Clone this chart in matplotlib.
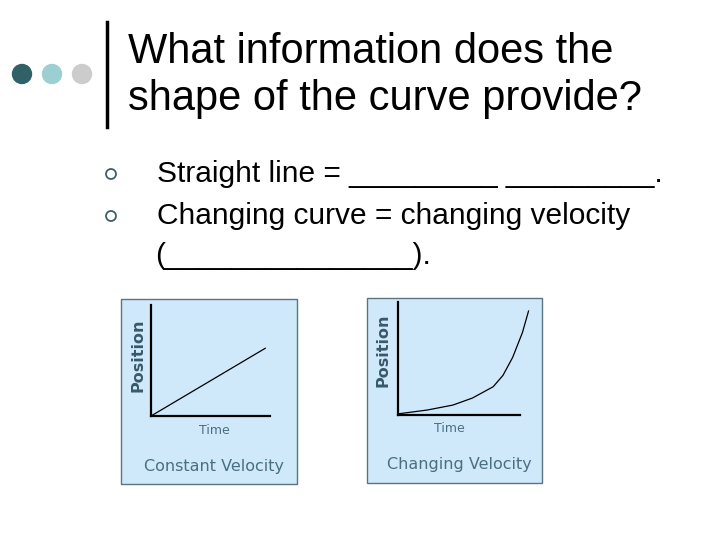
import matplotlib
matplotlib.use("Agg")
import matplotlib.pyplot as plt
from matplotlib.patches import Rectangle, Ellipse

# slide text
title_lines = ["What information does the", "shape of the curve provide?"]
bullets = ["Straight line = _________ _________.",
           "Changing curve = changing velocity",
           "(_______________)."]

# left panel: constant velocity
const_time = [0, 9.6]
const_pos = [0, 6.1]

# right panel: changing velocity
chg_time = [0, 2.4, 4.5, 6.1, 7.8, 8.6, 9.4, 10.2, 10.7]
chg_pos = [0.1, 0.44, 0.88, 1.5, 2.5, 3.5, 5.1, 7.3, 9.2]

panel_titles = ["Constant Velocity", "Changing Velocity"]
W, H = 720, 540

fig = plt.figure(figsize=(7.2, 5.4), dpi=100)
fig.patch.set_facecolor("white")


def fx(px):
    return px / W


def fy(py):
    return 1 - py / H


sans = ["Liberation Sans", "DejaVu Sans"]

# title decoration
for x, c in [(22, "#2f6166"), (52, "#9ccfd2"), (82, "#cccccc")]:
    fig.add_artist(Ellipse((fx(x), fy(74)), 19 / W, 19 / H, color=c, transform=fig.transFigure))
fig.add_artist(plt.Line2D([fx(107), fx(107)], [fy(22), fy(127)], color="black", lw=2.5))

fig.text(fx(128), fy(52), title_lines[0], fontsize=30, family=sans, va="center", ha="left")
fig.text(fx(128), fy(99), title_lines[1], fontsize=30, family=sans, va="center", ha="left")

# bullets
for py in [174, 216]:
    fig.add_artist(Ellipse((fx(111), fy(py)), 10 / W, 10 / H, facecolor="none",
                           edgecolor="#3d6066", lw=1.3, transform=fig.transFigure))
fig.text(fx(157), fy(174), bullets[0], fontsize=21.5, family=sans, va="center")
fig.text(fx(157), fy(216), bullets[1], fontsize=21.5, family=sans, va="center")
fig.text(fx(155), fy(256), bullets[2], fontsize=21.5, family=sans, va="center")

# panel boxes
boxes = [(121, 299, 297, 484), (367, 298, 542, 483)]
for (x0, y0, x1, y1) in boxes:
    fig.add_artist(Rectangle((fx(x0), fy(y1)), fx(x1 - x0), (y1 - y0) / H,
                             facecolor="#cfe9fb", edgecolor="#5b7482", lw=1,
                             transform=fig.transFigure, zorder=0))

txt_col = "#4a6f80"
lab_col = "#37596a"


def panel(ax, t, p, xmax, xspan):
    ax.set_facecolor("none")
    ax.plot(t, p, color="black", lw=0.9)
    ax.set_xlim(0, xmax)
    ax.set_ylim(0, 10)
    for s in ["top", "right"]:
        ax.spines[s].set_visible(False)
    for s in ["left", "bottom"]:
        ax.spines[s].set_linewidth(1.6)
    ax.spines["bottom"].set_bounds(0, xspan)
    ax.set_xticks([])
    ax.set_yticks([])


ax1 = fig.add_axes([fx(151), fy(416), (270 - 151) / W, (416 - 305) / H])
panel(ax1, const_time, const_pos, 10, 10)
ax2 = fig.add_axes([fx(398), fy(415), (530 - 398) / W, (415 - 302) / H])
panel(ax2, chg_time, chg_pos, 10.82, 10)

fig.text(fx(138), fy(355), "Position", rotation=90, fontsize=11.5, fontweight="bold",
         color=lab_col, va="center", ha="center")
fig.text(fx(383), fy(350), "Position", rotation=90, fontsize=11.5, fontweight="bold",
         color=lab_col, va="center", ha="center")
fig.text(fx(214), fy(430), "Time", fontsize=9, color=txt_col, va="center", ha="center")
fig.text(fx(449), fy(429), "Time", fontsize=9, color=txt_col, va="center", ha="center")
fig.text(fx(214), fy(467), panel_titles[0], fontsize=11.5, color=txt_col, va="center", ha="center")
fig.text(fx(459), fy(465), panel_titles[1], fontsize=11.5, color=txt_col, va="center", ha="center")

fig.savefig("out.png", dpi=100)
